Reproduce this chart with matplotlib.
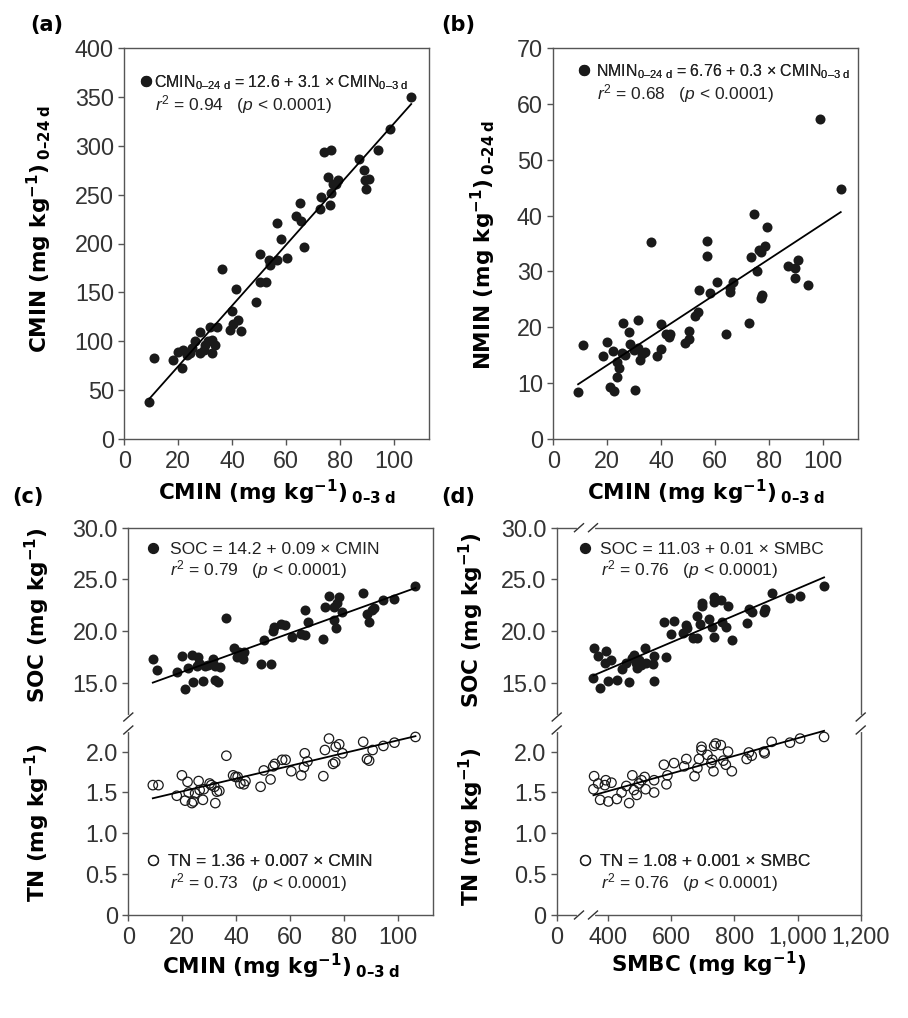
import numpy as np
import matplotlib
matplotlib.use("Agg")
import matplotlib.pyplot as plt
from matplotlib.lines import Line2D
from matplotlib.ticker import FixedLocator, FuncFormatter, NullLocator

plt.rcParams['font.family'] = ['Liberation Sans', 'DejaVu Sans']
plt.rcParams['mathtext.fontset'] = 'custom'
plt.rcParams['mathtext.rm'] = 'Liberation Sans'
plt.rcParams['mathtext.it'] = 'Liberation Sans:italic'
plt.rcParams['mathtext.bf'] = 'DejaVu Sans:bold'

# ---------------- data ----------------
# (a) CMIN 0-3 d vs CMIN 0-24 d
a_x = [9.3, 11.0, 18.1, 20.0, 21.3, 21.9, 23.1, 24.3, 25.0, 26.2, 28.0, 28.0, 29.5, 29.9,
       31.1, 31.7, 32.4, 32.4, 33.6, 34.4, 36.4, 39.1, 40.1, 40.4, 41.6, 42.2, 43.1, 49.0,
       50.2, 50.2, 52.7, 53.7, 53.9, 56.8, 56.8, 58.0, 60.4, 63.8, 65.3, 65.7, 66.5, 72.5,
       73.1, 74.0, 76.8, 75.6, 76.2, 76.5, 77.4, 78.6, 79.3, 87.0, 88.9, 89.1, 89.5, 90.7,
       94.0, 98.4, 106.4]
a_y = [38, 83, 81, 89.5, 72.5, 91, 86, 88, 93, 100, 110, 88, 91, 96,
       100, 115, 101, 88, 96, 115, 174, 112, 131, 118, 154, 122, 111, 140,
       161, 189, 161, 183, 178, 221, 183, 205, 185, 228, 241, 223, 196, 235,
       248, 293, 296, 268, 239, 252, 261, 261, 265, 286, 275, 265, 256, 266,
       296, 317, 350]

# (b) CMIN 0-3 d vs NMIN 0-24 d
b_x = [9.2, 11.0, 18.3, 20.1, 21.2, 22.0, 22.5, 23.7, 23.8, 24.2, 25.6, 26.0, 26.5, 27.9,
       28.5, 30.0, 30.4, 31.5, 31.5, 32.3, 32.9, 34.0, 36.4, 38.6, 39.9, 40.1, 41.8, 42.8,
       43.4, 49.0, 50.2, 50.5, 52.7, 53.5, 54.0, 57.1, 57.1, 58.2, 60.7, 64.1, 65.4, 65.6,
       66.6, 72.6, 73.2, 74.4, 75.6, 76.2, 77.0, 77.2, 77.5, 78.4, 79.4, 87.1, 89.6, 89.6,
       90.8, 94.5, 98.9, 106.6]
b_y = [8.5, 16.9, 14.9, 17.4, 9.3, 15.8, 8.7, 13.9, 11.2, 12.7, 15.4, 20.8, 15.0, 19.2,
       17.0, 16.0, 8.8, 21.4, 16.3, 14.2, 15.2, 15.6, 35.3, 14.9, 20.6, 16.2, 18.8, 18.2,
       18.9, 17.3, 19.3, 18.0, 22.1, 22.8, 26.7, 35.5, 32.8, 26.1, 28.2, 18.8, 26.4, 27.0,
       28.2, 20.7, 32.6, 40.3, 30.0, 33.8, 33.4, 25.3, 25.8, 34.6, 38.0, 31.0, 30.6, 28.9,
       32.1, 27.5, 57.2, 44.7]

# (c) CMIN 0-3 d vs SOC and TN
c_soc_x = [9.1, 10.8, 18.1, 19.9, 21.1, 22.2, 23.6, 23.9, 25.5, 25.9, 26.3, 27.7, 28.4, 29.5,
           31.6, 32.3, 32.0, 33.4, 34.2, 36.4, 39.4, 40.2, 41.0, 42.6, 42.9, 49.1, 50.3, 52.8,
           53.8, 54.0, 56.5, 58.0, 60.6, 64.0, 65.5, 65.5, 66.7, 72.4, 72.9, 74.5, 76.4, 76.4,
           77.0, 77.6, 78.3, 79.5, 87.3, 88.6, 89.4, 90.3, 91.3, 94.7, 98.8, 106.6]
c_soc_y = [17.3, 16.2, 16.0, 17.6, 14.4, 16.4, 17.7, 15.1, 16.6, 17.5, 16.9, 15.2, 16.6, 16.7,
           17.3, 16.6, 15.3, 15.1, 16.5, 21.3, 18.4, 17.5, 18.0, 17.3, 18.0, 16.8, 19.1, 16.8,
           20.0, 20.4, 20.7, 20.6, 19.4, 19.7, 22.0, 19.6, 20.9, 19.2, 22.3, 23.4, 21.1, 22.3,
           20.3, 22.7, 23.3, 21.8, 23.7, 21.6, 20.9, 22.0, 22.2, 23.0, 23.1, 24.4]
c_tn_x = [9.1, 11.2, 18.0, 19.9, 21.1, 22.0, 22.4, 23.6, 24.2, 24.8, 26.1, 26.5, 27.7, 28.0,
          30.2, 30.8, 32.0, 32.3, 32.9, 33.8, 36.4, 38.9, 39.8, 40.6, 41.6, 42.9, 43.5, 49.1,
          50.3, 52.8, 53.8, 54.4, 57.1, 58.4, 60.5, 64.2, 65.2, 65.5, 66.5, 72.4, 73.0, 74.5,
          76.0, 76.8, 77.0, 78.3, 79.5, 87.2, 88.6, 89.4, 90.7, 94.7, 98.8, 106.6]
c_tn_y = [1.59, 1.59, 1.46, 1.71, 1.40, 1.63, 1.50, 1.37, 1.39, 1.49, 1.64, 1.53, 1.41, 1.54,
          1.61, 1.59, 1.57, 1.37, 1.51, 1.52, 1.95, 1.71, 1.69, 1.69, 1.61, 1.60, 1.64, 1.57,
          1.77, 1.66, 1.82, 1.85, 1.90, 1.90, 1.76, 1.71, 1.81, 1.98, 1.88, 1.70, 2.02, 2.16,
          1.85, 1.87, 2.06, 2.09, 1.98, 2.12, 1.91, 1.89, 2.02, 2.07, 2.11, 2.18]

# (d) SMBC vs SOC and TN
d_soc_x = [356, 354, 369, 375, 393, 390, 401, 411, 428, 443, 458, 467, 477, 482, 488, 493,
           498, 506, 516, 519, 544, 546, 546, 585, 577, 598, 609, 639, 646, 651, 670, 683,
           681, 691, 696, 696, 720, 728, 734, 736, 736, 757, 760, 773, 781, 792, 841, 846,
           857, 894, 896, 918, 976, 1008, 1084]
d_soc_y = [18.4, 15.5, 17.6, 14.5, 18.1, 16.9, 15.2, 17.2, 15.3, 16.3, 16.9, 15.1, 17.4, 17.7,
           16.9, 16.4, 17.2, 16.7, 18.4, 16.9, 16.8, 17.6, 15.2, 17.5, 20.9, 19.7, 21.0, 19.8,
           20.6, 20.3, 19.3, 19.3, 21.5, 20.7, 22.4, 22.7, 21.2, 20.4, 19.4, 23.3, 22.8, 23.0,
           20.9, 20.4, 22.4, 19.1, 20.8, 22.1, 21.8, 21.8, 22.1, 23.7, 23.2, 23.4, 24.4]
d_tn_x = [356, 354, 369, 375, 393, 390, 401, 411, 428, 443, 458, 467, 477, 482, 491, 498,
          506, 516, 519, 546, 546, 577, 585, 588, 609, 641, 648, 674, 683, 688, 696, 696,
          715, 727, 730, 734, 736, 741, 757, 765, 773, 780, 792, 839, 846, 855, 894, 896,
          918, 976, 1008, 1084]
d_tn_y = [1.70, 1.54, 1.61, 1.41, 1.65, 1.59, 1.39, 1.62, 1.42, 1.50, 1.58, 1.37, 1.71, 1.53,
          1.47, 1.61, 1.65, 1.69, 1.54, 1.65, 1.50, 1.84, 1.60, 1.71, 1.86, 1.82, 1.91, 1.70,
          1.80, 1.91, 2.06, 2.02, 1.96, 1.86, 1.90, 1.76, 2.07, 2.10, 2.08, 1.89, 1.84, 2.00,
          1.76, 1.91, 1.99, 1.95, 2.00, 1.98, 2.12, 2.11, 2.16, 2.18]

# regression lines (intercept, slope) as drawn in the picture
fit_a = (12.6, 3.1)
fit_b = (6.93, 0.316)
fit_c_soc = (14.15, 0.094)
fit_c_tn = (1.358, 0.0078)
fit_d_soc = (11.1, 0.013)
fit_d_tn = (1.084, 0.00108)

# text
eq_a = r"CMIN$_{\mathrm{0–24\ d}}$ = 12.6 + 3.1 × CMIN$_{\mathrm{0–3\ d}}$"
r2_a = r"$\mathit{r}^{\mathrm{2}}$ = 0.94   ($\mathit{p}$ < 0.0001)"
eq_b = r"NMIN$_{\mathrm{0–24\ d}}$ = 6.76 + 0.3 × CMIN$_{\mathrm{0–3\ d}}$"
r2_b = r"$\mathit{r}^{\mathrm{2}}$ = 0.68   ($\mathit{p}$ < 0.0001)"
eq_c_soc = "SOC = 14.2 + 0.09 × CMIN"
r2_c_soc = r"$\mathit{r}^{\mathrm{2}}$ = 0.79   ($\mathit{p}$ < 0.0001)"
eq_c_tn = "TN = 1.36 + 0.007 × CMIN"
r2_c_tn = r"$\mathit{r}^{\mathrm{2}}$ = 0.73   ($\mathit{p}$ < 0.0001)"
eq_d_soc = "SOC = 11.03 + 0.01 × SMBC"
r2_d_soc = r"$\mathit{r}^{\mathrm{2}}$ = 0.76   ($\mathit{p}$ < 0.0001)"
eq_d_tn = "TN = 1.08 + 0.001 × SMBC"
r2_d_tn = r"$\mathit{r}^{\mathrm{2}}$ = 0.76   ($\mathit{p}$ < 0.0001)"

xlab_cmin = r"CMIN (mg kg$^{\mathbf{-1}}$)$_{\mathbf{\ 0–3\ d}}$"
ylab_a = r"CMIN (mg kg$^{\mathbf{-1}}$)$_{\mathbf{\ 0–24\ d}}$"
ylab_b = r"NMIN (mg kg$^{\mathbf{-1}}$)$_{\mathbf{\ 0–24\ d}}$"
ylab_soc = r"SOC (mg kg$^{\mathbf{-1}}$)"
ylab_tn = r"TN (mg kg$^{\mathbf{-1}}$)"
xlab_smbc = r"SMBC (mg kg$^{\mathbf{-1}}$)"

cmin_ticks = [0, 20, 40, 60, 80, 100]
a_yticks = [0, 50, 100, 150, 200, 250, 300, 350, 400]
b_yticks = [0, 10, 20, 30, 40, 50, 60, 70]
cd_yticks = [0, 0.5, 1.0, 1.5, 2.0, 15.0, 20.0, 25.0, 30.0]
smbc_ticks = [0, 400, 600, 800, 1000, 1200]

# broken-axis breakpoints (value -> relative position)
y_brk_vals = [0, 2.265, 11.68, 30.0]
y_brk_pos = [0, 185.0, 198.0, 387.3]
x_brk_vals = [0, 70.0, 352.5, 1200.0]
x_brk_pos = [0, 22.3, 36.3, 304.0]

# ---------------- style ----------------
DOT = '#1a1a1a'
SPINE = '#555555'
TICKC = '#333333'
TXT = '#222222'
TICK_FS = 16.8
EQ_FS = 12.5
EQ_FS_SUB = 11.5
LAB_FS = 15.5
MS_S = 52
LAB_FONT = 'DejaVu Sans'


def piecewise(vals, pos):
    vals = np.asarray(vals, float)
    pos = np.asarray(pos, float)

    def make(src, dst):
        def f(v):
            v = np.asarray(v, float)
            out = np.interp(v, src, dst)
            lo_s = (dst[1] - dst[0]) / (src[1] - src[0])
            hi_s = (dst[-1] - dst[-2]) / (src[-1] - src[-2])
            out = np.where(v < src[0], dst[0] + (v - src[0]) * lo_s, out)
            out = np.where(v > src[-1], dst[-1] + (v - src[-1]) * hi_s, out)
            return out
        return f
    return make(vals, pos), make(pos, vals)


def style(ax):
    for s in ax.spines.values():
        s.set_color(SPINE)
        s.set_linewidth(1.0)
    ax.tick_params(direction='out', length=4.5, width=1.0, color=SPINE,
                   labelsize=TICK_FS, labelcolor=TICKC)
    ax.tick_params(axis='x', pad=3.5)
    ax.tick_params(axis='y', pad=3)


def cd_fmt(v, p):
    return "0" if abs(v) < 1e-9 else f"{v:.1f}"


def smbc_fmt(v, p):
    return f"{v:,.0f}"


def eq_legend(ax, eq, ax_x, ax_y, pad, filled=True, fs=EQ_FS):
    h = Line2D([], [], ls='none', marker='o', markersize=7.2,
               markerfacecolor=DOT if filled else 'none', markeredgecolor=DOT,
               markeredgewidth=0.9)
    leg = ax.legend([h], [eq], loc='center left', bbox_to_anchor=(ax_x, ax_y),
                    frameon=False, borderpad=0, borderaxespad=0, handlelength=0.6,
                    handletextpad=pad * EQ_FS / fs, fontsize=fs, labelcolor=TXT)
    ax.add_artist(leg)
    return leg


def fit_line(ax, xs, coef):
    xr = np.array([min(xs), max(xs)])
    ax.plot(xr, coef[0] + coef[1] * xr, color='black', lw=1.3, zorder=4)


def slash_pair(ax, centers, along, fixed, dx, dy):
    # white gap + two slashes on a spine
    kw = dict(transform=ax.transAxes, clip_on=False)
    if along == 'y':
        ax.plot([fixed, fixed], centers, color='white', lw=3, zorder=10, **kw)
        for c in centers:
            ax.plot([fixed - dx, fixed + dx], [c - dy, c + dy], color='#333333', lw=1.0, zorder=11, **kw)
    else:
        ax.plot(centers, [fixed, fixed], color='white', lw=3, zorder=10, **kw)
        for c in centers:
            ax.plot([c - dx, c + dx], [fixed - dy, fixed + dy], color='#333333', lw=1.0, zorder=11, **kw)


W, H = 908, 1018
fig = plt.figure(figsize=(W / 100, H / 100), dpi=100)


def add_ax(x0, y0, x1, y1):
    return fig.add_axes([x0 / W, 1 - y1 / H, (x1 - x0) / W, (y1 - y0) / H])


# ---------------- (a) ----------------
ax = add_ax(124.3, 47.7, 429.0, 439.3)
style(ax)
ax.scatter(a_x, a_y, s=MS_S, color=DOT, linewidths=0, zorder=3)
fit_line(ax, a_x, fit_a)
ax.set_xlim(0, 113)
ax.set_ylim(0, 400)
ax.xaxis.set_major_locator(FixedLocator(cmin_ticks))
ax.yaxis.set_major_locator(FixedLocator(a_yticks))
eq_legend(ax, eq_a, 0.054, 0.912, 0.22, fs=EQ_FS_SUB)
ax.text(0.101, 0.854, r2_a, transform=ax.transAxes, fontsize=EQ_FS, color=TXT, va='center', ha='left')
ax.text(0.5, -0.135, xlab_cmin, transform=ax.transAxes, fontsize=LAB_FS, fontweight='bold',
        family=LAB_FONT, ha='center', va='center')
ax.text(-0.277, 0.537, ylab_a, transform=ax.transAxes, fontsize=LAB_FS, fontweight='bold',
        family=LAB_FONT, ha='center', va='center', rotation=90)

# ---------------- (b) ----------------
ax = add_ax(553.3, 47.7, 858.0, 439.3)
style(ax)
ax.scatter(b_x, b_y, s=MS_S, color=DOT, linewidths=0, zorder=3)
fit_line(ax, b_x, fit_b)
ax.set_xlim(0, 113)
ax.set_ylim(0, 70)
ax.xaxis.set_major_locator(FixedLocator(cmin_ticks))
ax.yaxis.set_major_locator(FixedLocator(b_yticks))
eq_legend(ax, eq_b, 0.086, 0.940, 0.39, fs=EQ_FS_SUB)
ax.text(0.142, 0.882, r2_b, transform=ax.transAxes, fontsize=EQ_FS, color=TXT, va='center', ha='left')
ax.text(0.5, -0.135, xlab_cmin, transform=ax.transAxes, fontsize=LAB_FS, fontweight='bold',
        family=LAB_FONT, ha='center', va='center')
ax.text(-0.231, 0.496, ylab_b, transform=ax.transAxes, fontsize=LAB_FS, fontweight='bold',
        family=LAB_FONT, ha='center', va='center', rotation=90)

yf, yi = piecewise(y_brk_vals, y_brk_pos)
xf, xi = piecewise(x_brk_vals, x_brk_pos)
ygap = [y_brk_pos[1] / y_brk_pos[-1], y_brk_pos[2] / y_brk_pos[-1]]
xgap = [x_brk_pos[1] / x_brk_pos[-1], x_brk_pos[2] / x_brk_pos[-1]]

# ---------------- (c) ----------------
ax = add_ax(128.3, 527.7, 432.7, 915.0)
style(ax)
ax.set_yscale('function', functions=(yf, yi))
ax.scatter(c_soc_x, c_soc_y, s=MS_S, color=DOT, linewidths=0, zorder=3)
ax.scatter(c_tn_x, c_tn_y, s=MS_S - 6, facecolors='none', edgecolors=DOT, linewidths=0.9, zorder=3)
fit_line(ax, c_soc_x, fit_c_soc)
fit_line(ax, c_tn_x, fit_c_tn)
ax.set_xlim(0, 113)
ax.set_ylim(0, 30)
ax.xaxis.set_major_locator(FixedLocator(cmin_ticks))
ax.yaxis.set_major_locator(FixedLocator(cd_yticks))
ax.yaxis.set_minor_locator(NullLocator())
ax.yaxis.set_major_formatter(FuncFormatter(cd_fmt))
eq_legend(ax, eq_c_soc, 0.065, 0.945, 0.66)
ax.text(0.137, 0.891, r2_c_soc, transform=ax.transAxes, fontsize=EQ_FS, color=TXT, va='center', ha='left')
eq_legend(ax, eq_c_tn, 0.065, 0.139, 0.56, filled=False)
ax.text(0.137, 0.083, r2_c_tn, transform=ax.transAxes, fontsize=EQ_FS, color=TXT, va='center', ha='left')
ax.text(0.5, -0.132, xlab_cmin, transform=ax.transAxes, fontsize=LAB_FS, fontweight='bold',
        family=LAB_FONT, ha='center', va='center')
ax.text(-0.30, 0.775, ylab_soc, transform=ax.transAxes, fontsize=LAB_FS, fontweight='bold',
        family=LAB_FONT, ha='center', va='center', rotation=90)
ax.text(-0.30, 0.2375, ylab_tn, transform=ax.transAxes, fontsize=LAB_FS, fontweight='bold',
        family=LAB_FONT, ha='center', va='center', rotation=90)
slash_pair(ax, ygap, 'y', 0.0, 4.5 / 304.4, 4.0 / 387.3)

# ---------------- (d) ----------------
ax = add_ax(556.7, 527.7, 860.7, 915.0)
style(ax)
ax.set_yscale('function', functions=(yf, yi))
ax.set_xscale('function', functions=(xf, xi))
ax.scatter(d_soc_x, d_soc_y, s=MS_S, color=DOT, linewidths=0, zorder=3)
ax.scatter(d_tn_x, d_tn_y, s=MS_S - 6, facecolors='none', edgecolors=DOT, linewidths=0.9, zorder=3)
fit_line(ax, d_soc_x, fit_d_soc)
fit_line(ax, d_tn_x, fit_d_tn)
ax.set_xlim(0, 1200)
ax.set_ylim(0, 30)
ax.xaxis.set_major_locator(FixedLocator(smbc_ticks))
ax.xaxis.set_minor_locator(NullLocator())
ax.xaxis.set_major_formatter(FuncFormatter(smbc_fmt))
ax.yaxis.set_major_locator(FixedLocator(cd_yticks))
ax.yaxis.set_minor_locator(NullLocator())
ax.yaxis.set_major_formatter(FuncFormatter(cd_fmt))
eq_legend(ax, eq_d_soc, 0.076, 0.945, 0.56)
ax.text(0.145, 0.891, r2_d_soc, transform=ax.transAxes, fontsize=EQ_FS, color=TXT, va='center', ha='left')
eq_legend(ax, eq_d_tn, 0.076, 0.139, 0.56, filled=False)
ax.text(0.145, 0.083, r2_d_tn, transform=ax.transAxes, fontsize=EQ_FS, color=TXT, va='center', ha='left')
ax.text(0.5, -0.127, xlab_smbc, transform=ax.transAxes, fontsize=LAB_FS, fontweight='bold',
        family=LAB_FONT, ha='center', va='center')
ax.text(-0.282, 0.762, ylab_soc, transform=ax.transAxes, fontsize=LAB_FS, fontweight='bold',
        family=LAB_FONT, ha='center', va='center', rotation=90)
ax.text(-0.282, 0.227, ylab_tn, transform=ax.transAxes, fontsize=LAB_FS, fontweight='bold',
        family=LAB_FONT, ha='center', va='center', rotation=90)
slash_pair(ax, ygap, 'y', 0.0, 4.5 / 304.0, 4.0 / 387.3)
slash_pair(ax, ygap, 'y', 1.0, 4.5 / 304.0, 4.0 / 387.3)
slash_pair(ax, xgap, 'x', 0.0, 4.5 / 304.0, 4.0 / 387.3)
slash_pair(ax, xgap, 'x', 1.0, 4.5 / 304.0, 4.0 / 387.3)

# panel letters
for lab, px, py in [("(a)", 30, 25), ("(b)", 441, 25), ("(c)", 12, 497), ("(d)", 441, 497)]:
    fig.text(px / W, 1 - py / H, lab, fontsize=15, fontweight='bold', family=LAB_FONT,
             ha='left', va='center')

fig.savefig("out.png", dpi=100)
